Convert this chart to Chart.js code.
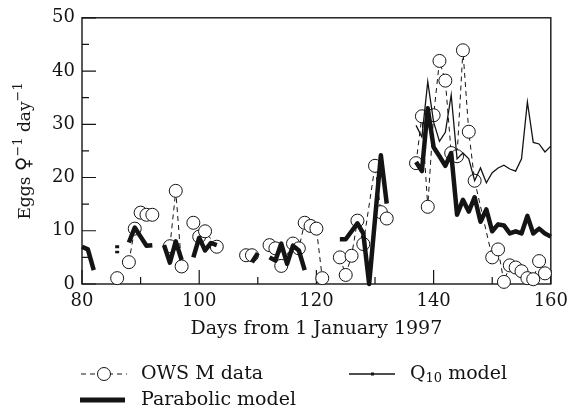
<!DOCTYPE html>
<html>
<head>
<meta charset="utf-8">
<script src="https://cdn.jsdelivr.net/npm/chart.js@4.4.1/dist/chart.umd.min.js"></script>
<style>
  html, body { margin: 0; padding: 0; background: #fff; }
  #wrap { width: 575px; height: 414px; position: relative; }
</style>
</head>
<body>
<div id="wrap"><canvas id="eggChart"></canvas></div>
<script>
// OWS M observations (null = break in the dashed line)
const owsDays = [86, 87, 88, 89, 90, 91, 92, 93, 95, 96, 97, 98, 99, 100, 101, 103, 104,
    108, 109, 110, 112, 113, 114, 116, 117, 118, 119, 120, 121, 122,
    124, 125, 126, 127, 128, 130, 131, 132, 133,
    137, 138, 139, 140, 141, 142, 143, 144, 145, 146, 147,
    150, 151, 152, 153, 154, 155, 156, 157, 158, 159];
const owsEggs = [1.1, null, 4.1, 10.4, 13.4, 13.0, 13.0, null, 7.1, 17.5, 3.3, null, 11.5, 8.9, 9.9, 7.0, null,
    5.4, 5.4, null, 7.3, 6.7, 3.4, 7.6, 6.7, 11.5, 10.9, 10.4, 1.1, null,
    5.0, 1.7, 5.3, 11.9, 7.5, 22.2, 13.5, 12.3, null,
    22.7, 31.5, 14.5, 31.7, 41.9, 38.2, 24.6, 24.0, 43.9, 28.6, 19.4,
    5.0, 6.5, 0.4, 3.5, 3.1, 2.4, 1.1, 0.9, 4.3, 2.0];

// Parabolic model
const parabolicDays = [80, 81, 82, 83, 86, 87, 88, 89, 90, 91, 92, 93, 94, 95, 96, 97, 98,
    99, 100, 101, 102, 103, 104, 109, 110, 111,
    112, 113, 114, 115, 116, 117, 118, 119,
    124, 125, 126, 127, 128, 129, 130, 131, 132, 133,
    137, 138, 139, 140, 141, 142, 143, 144, 145, 146, 147, 148,
    149, 150, 151, 152, 153, 154, 155, 156, 157, 158, 159, 160];
const parabolicEggs = [7.0, 6.5, 2.6, null, 7.0, null, 7.8, 10.6, 8.9, 7.2, 7.3, null, 7.3, 4.0, 8.0, 4.5, null,
    5.0, 8.7, 6.3, 7.7, 7.3, null, 4.1, 5.8, null,
    5.0, 4.4, 7.6, 3.8, 7.2, 6.3, 2.6, null,
    8.4, 8.4, 9.9, 11.4, 9.5, 0, 12.2, 24.2, 15.1, null,
    22.9, 21.2, 33.0, 25.7, 24.0, 22.2, 24.6, 13.0, 15.8, 13.6, 16.3, 11.7,
    14.0, 9.9, 11.2, 11.0, 9.5, 9.9, 9.5, 12.8, 9.5, 10.4, 9.5, 8.9];

// Q10 model
const q10Days = [86, 87, 137, 138, 139, 140, 141, 142, 143, 144, 145, 146, 147, 148,
    149, 150, 151, 152, 153, 154, 155, 156, 157, 158, 159, 160];
const q10Eggs = [6.0, null, 29.8, 27.6, 38.0, 30.4, 26.8, 28.5, 35.5, 23.5, 24.6, 23.5, 19.4, 21.8,
    19.0, 20.9, 21.8, 22.3, 21.6, 21.2, 23.5, 34.2, 26.6, 26.3, 24.8, 25.9];

const xMajorTicks = [80, 100, 120, 140, 160];
const xMinorTicks = [90, 110, 130, 150];
const yMajorTicks = [0, 10, 20, 30, 40, 50];
const yMinorTicks = [5, 15, 25, 35, 45];

const SERIF = '"DejaVu Serif", serif';
const INK = '#141414';

const toPoints = (xs, ys) => xs.map((x, i) => ({ x: x, y: ys[i] }));

// model curves only show a little dash where a single day stands alone
function isolated(ctx) {
    const data = ctx.dataset.data;
    const i = ctx.dataIndex;
    const prev = data[i - 1], next = data[i + 1];
    return (!prev || prev.y === null) && (!next || next.y === null);
}

// box and inward tick marks
const frameTicks = {
    id: 'frameTicks',
    beforeDatasetsDraw(chart) {
        const { ctx, chartArea: a, scales: { x, y } } = chart;
        ctx.save();
        ctx.strokeStyle = INK;
        ctx.lineWidth = 1.4;
        ctx.strokeRect(a.left, a.top, a.right - a.left, a.bottom - a.top);
        ctx.lineWidth = 1.2;
        ctx.beginPath();
        xMajorTicks.concat(xMinorTicks).forEach(v => {
            const px = x.getPixelForValue(v);
            const len = xMajorTicks.includes(v) ? 14 : 7;
            ctx.moveTo(px, a.bottom);
            ctx.lineTo(px, a.bottom - len);
        });
        yMajorTicks.concat(yMinorTicks).forEach(v => {
            const py = y.getPixelForValue(v);
            const len = yMajorTicks.includes(v) ? 14 : 7;
            ctx.moveTo(a.left, py);
            ctx.lineTo(a.left + len, py);
        });
        ctx.stroke();
        ctx.restore();
    }
};

// rotated y title with superscripts
const yTitle = {
    id: 'yTitle',
    afterDraw(chart) {
        const { ctx, chartArea: a } = chart;
        const parts = [
            { t: 'Eggs ', f: `17px ${SERIF}`, dy: 0 },
            { t: '\u2640', f: `20px ${SERIF}`, dy: 0 },
            { t: '\u22121', f: `13px ${SERIF}`, dy: -8 },
            { t: ' day', f: `17px ${SERIF}`, dy: 0 },
            { t: '\u22121', f: `13px ${SERIF}`, dy: -8 }
        ];
        ctx.save();
        ctx.translate(24, (a.top + a.bottom) / 2);
        ctx.rotate(-Math.PI / 2);
        ctx.fillStyle = INK;
        ctx.textBaseline = 'alphabetic';
        let total = 0;
        parts.forEach(p => { ctx.font = p.f; p.w = ctx.measureText(p.t).width; total += p.w; });
        let cx = -total / 2;
        parts.forEach(p => {
            ctx.font = p.f;
            ctx.fillText(p.t, cx, 6 + p.dy);
            cx += p.w;
        });
        ctx.restore();
    }
};

// legend laid out as in the figure: two rows under the axis title
const bottomLegend = {
    id: 'bottomLegend',
    afterDraw(chart) {
        const ctx = chart.ctx;
        ctx.save();
        ctx.strokeStyle = INK;
        ctx.fillStyle = INK;
        ctx.textBaseline = 'middle';
        ctx.font = `19px ${SERIF}`;

        let y = 374;
        ctx.lineWidth = 1;
        ctx.setLineDash([5, 4]);
        ctx.beginPath(); ctx.moveTo(81, y); ctx.lineTo(127, y); ctx.stroke();
        ctx.setLineDash([]);
        ctx.beginPath(); ctx.arc(104, y, 6.5, 0, Math.PI * 2);
        ctx.fillStyle = '#fff'; ctx.fill(); ctx.stroke();
        ctx.fillStyle = INK;
        ctx.fillText('OWS M data', 141, y);

        ctx.lineWidth = 1.3;
        ctx.beginPath(); ctx.moveTo(349, y); ctx.lineTo(395, y); ctx.stroke();
        ctx.fillRect(371, y - 1.5, 3, 3);
        ctx.fillText('Q', 410, y);
        const qw = ctx.measureText('Q').width;
        ctx.font = `13px ${SERIF}`;
        ctx.fillText('10', 410 + qw, y + 5);
        const sw = ctx.measureText('10').width;
        ctx.font = `19px ${SERIF}`;
        ctx.fillText(' model', 410 + qw + sw, y);

        y = 400;
        ctx.lineWidth = 5;
        ctx.beginPath(); ctx.moveTo(80, y); ctx.lineTo(125, y); ctx.stroke();
        ctx.fillText('Parabolic model', 141, y);
        ctx.restore();
    }
};

const canvas = document.getElementById('eggChart');
new Chart(canvas, {
    type: 'line',
    data: {
        datasets: [{
            label: 'OWS M data',
            data: toPoints(owsDays, owsEggs),
            borderColor: INK,
            borderWidth: 1,
            borderDash: [5, 4],
            pointRadius: 6.5,
            pointBorderWidth: 1,
            pointBorderColor: INK,
            pointBackgroundColor: '#fff',
            spanGaps: false,
            clip: false,
            order: 3
        }, {
            label: 'Q10 model',
            data: toPoints(q10Days, q10Eggs),
            borderColor: INK,
            borderWidth: 1.3,
            pointStyle: 'line',
            pointRadius: ctx => isolated(ctx) ? 2 : 0,
            pointBorderWidth: 2.5,
            pointBorderColor: INK,
            spanGaps: false,
            clip: false,
            order: 2
        }, {
            label: 'Parabolic model',
            data: toPoints(parabolicDays, parabolicEggs),
            borderColor: INK,
            borderWidth: 4.5,
            borderJoinStyle: 'round',
            pointStyle: 'line',
            pointRadius: ctx => isolated(ctx) ? 2 : 0,
            pointBorderWidth: 3,
            pointBorderColor: INK,
            spanGaps: false,
            clip: false,
            order: 1
        }]
    },
    options: {
        responsive: true,
        maintainAspectRatio: false,
        animation: false,
        events: [],
        devicePixelRatio: 1,
        layout: { padding: { left: 0, right: 20, top: 15, bottom: 74 } },
        plugins: {
            legend: { display: false },
            tooltip: { enabled: false }
        },
        scales: {
            x: {
                type: 'linear',
                min: 80,
                max: 160,
                grid: { display: false, drawTicks: false },
                border: { display: false },
                afterBuildTicks: scale => { scale.ticks = xMajorTicks.map(v => ({ value: v })); },
                afterFit: scale => { scale.height = 56; },
                ticks: {
                    padding: 7,
                    color: INK,
                    maxRotation: 0,
                    font: { family: SERIF, size: 18 }
                },
                title: {
                    display: true,
                    text: 'Days from 1 January 1997',
                    color: INK,
                    padding: { top: 0, bottom: 0 },
                    font: { family: SERIF, size: 19 }
                }
            },
            y: {
                min: 0,
                max: 50,
                grid: { display: false, drawTicks: false },
                border: { display: false },
                afterBuildTicks: scale => { scale.ticks = yMajorTicks.map(v => ({ value: v })); },
                afterFit: scale => { scale.width = 82; },
                ticks: {
                    padding: 7,
                    color: INK,
                    font: { family: SERIF, size: 18 }
                }
            }
        }
    },
    plugins: [frameTicks, yTitle, bottomLegend]
});
</script>
</body>
</html>
